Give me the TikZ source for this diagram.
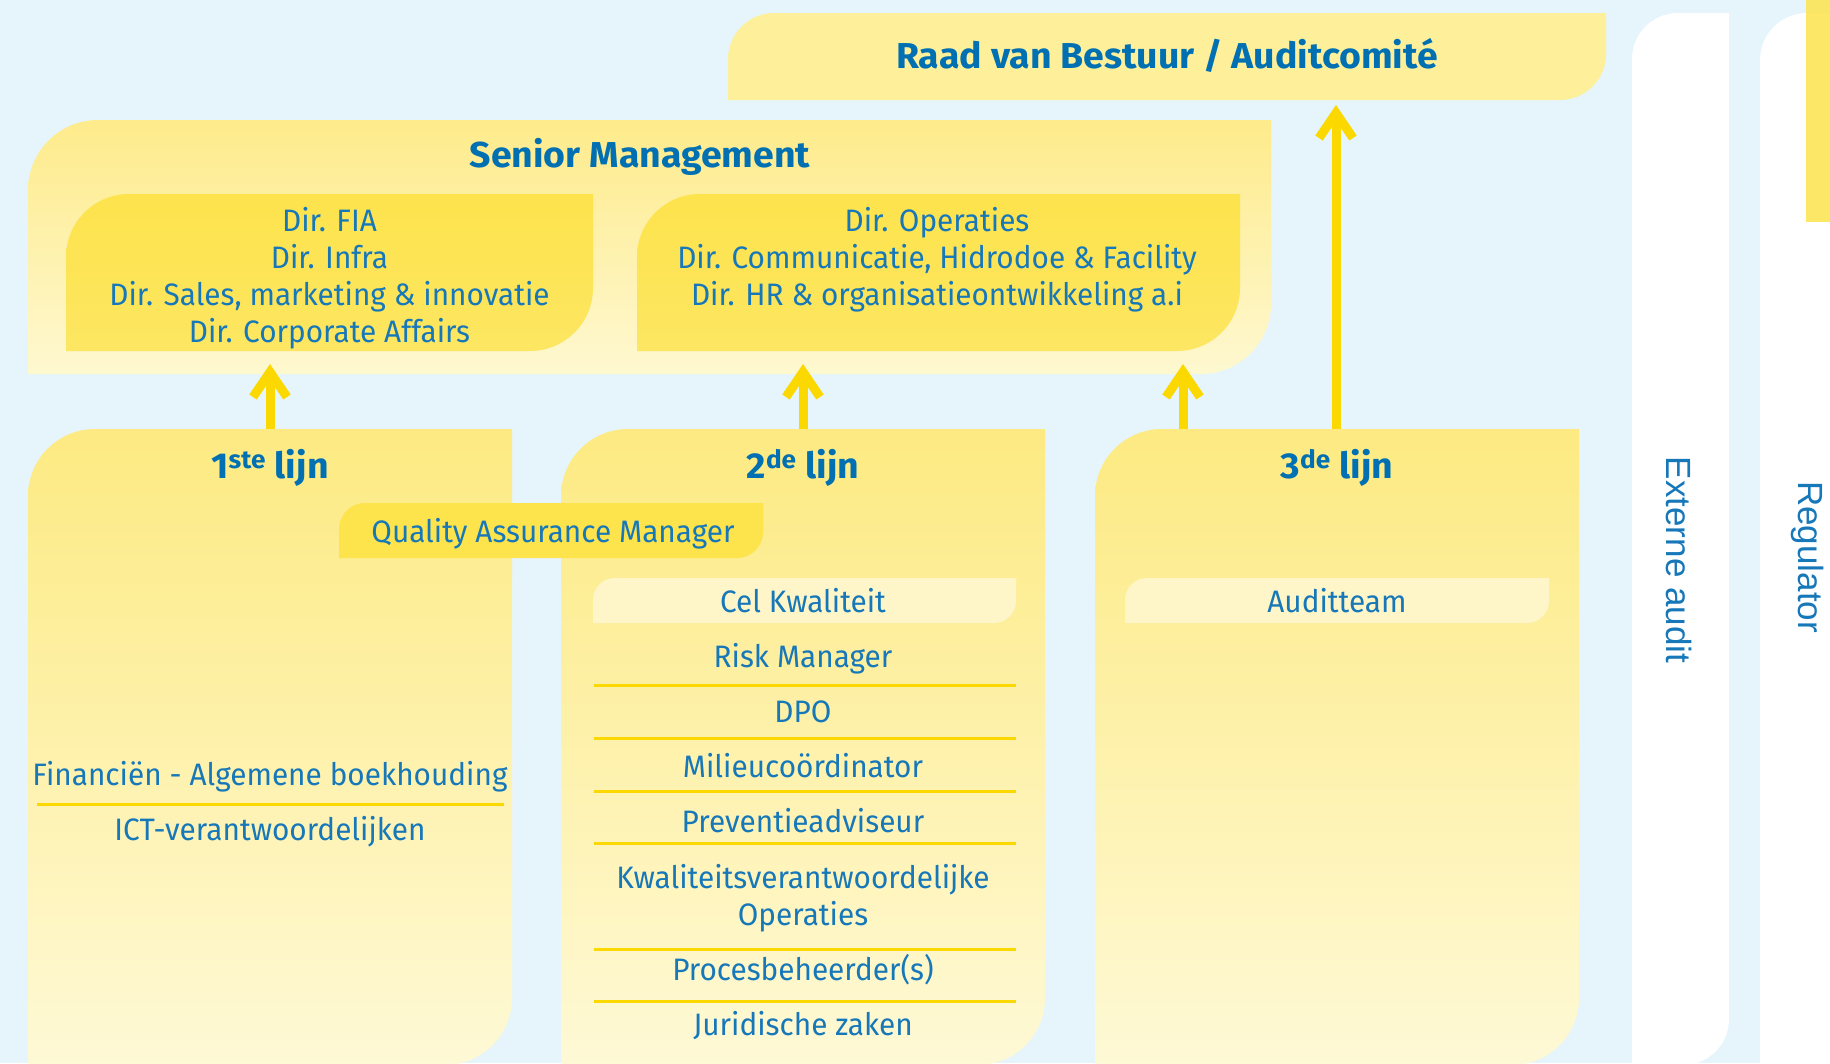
\documentclass[tikz,border=0pt]{standalone}
\usepackage{fontspec}
\setmainfont{Fira Sans}[FakeStretch=0.96]
\newfontfamily\headfont{Fira Sans}[FakeStretch=1.04]
\newfontfamily\sidefont{Liberation Sans}
\usepackage{tikz}
\usepackage{xcolor}
\usetikzlibrary{arrows.meta}

\definecolor{bgblue}{RGB}{230,245,251}
\definecolor{txtblue}{RGB}{22,119,185}
\definecolor{headblue}{RGB}{0,112,178}
\definecolor{gold}{RGB}{250,216,0}
\definecolor{boxtop}{RGB}{253,234,130}
\definecolor{boxbot}{RGB}{254,249,214}
\definecolor{smtop}{RGB}{254,235,139}
\definecolor{smbot}{RGB}{254,248,208}
\definecolor{dirtop}{RGB}{253,227,76}
\definecolor{dirbot}{RGB}{253,230,98}
\definecolor{raadgeel}{RGB}{254,240,155}
\definecolor{palegeel}{RGB}{254,246,200}

% box with rounded top-left and bottom-right corner
\newcommand{\leafpath}[5]{(#1,#4) -- (#1,#2+#5) arc[start angle=180,end angle=270,radius=#5] -- (#3,#2) -- (#3,#4-#5) arc[start angle=0,end angle=90,radius=#5] -- cycle}

\tikzset{
  bodytxt/.style={text=txtblue,font=\fontsize{31}{37.2}\selectfont,align=center,inner sep=0pt},
  headtxt/.style={text=headblue,font=\headfont\fontsize{36}{40}\selectfont\bfseries,inner sep=0pt},
  sidetxt/.style={text=txtblue,font=\sidefont\fontsize{35}{40}\selectfont,rotate=-90,inner sep=0pt},
  arr/.style={gold,line width=9pt,-{Straight Barb[length=25pt,width=34pt]}},
  sep/.style={gold,line width=3pt}
}

\begin{document}
\begin{tikzpicture}[x=1pt,y=-1pt]
\useasboundingbox (0,0) rectangle (1830,1063);
\fill[bgblue] (0,0) rectangle (1830,1063);
\clip (0,0) rectangle (1830,1063);

\fill[white] \leafpath{1632}{13}{1729}{1065}{46};
\fill[white] \leafpath{1760}{13}{1900}{1120}{47};
\fill[dirtop,opacity=0.85] (1806,0) rectangle (1830,222);

\fill[raadgeel] \leafpath{728}{13}{1606}{100}{46};
\shade[top color=smtop,bottom color=smbot] \leafpath{28}{120}{1271}{374}{70};
\shade[top color=dirtop,bottom color=dirbot] \leafpath{66}{194}{593}{351}{63};
\shade[top color=dirtop,bottom color=dirbot] \leafpath{637}{194}{1240}{351}{63};

\shade[top color=boxtop,bottom color=boxbot] \leafpath{28}{429}{512}{1065}{67};
\shade[top color=boxtop,bottom color=boxbot] \leafpath{561}{429}{1045}{1065}{67};
\shade[top color=boxtop,bottom color=boxbot] \leafpath{1095}{429}{1579}{1065}{67};

\fill[dirtop] \leafpath{339}{503}{763}{558}{26};
\fill[palegeel] \leafpath{593}{578}{1016}{623}{22};
\fill[palegeel] \leafpath{1125}{578}{1549}{623}{22};

\draw[sep] (37,804) -- (504,804);
\draw[sep] (594,685) -- (1016,685);
\draw[sep] (594,738) -- (1016,738);
\draw[sep] (594,791) -- (1016,791);
\draw[sep] (594,843) -- (1016,843);
\draw[sep] (594,949) -- (1016,949);
\draw[sep] (594,1001) -- (1016,1001);

\node[headtxt,anchor=base] (raad) at (1167,68) {Raad van Bestuur / Auditcomité};
\node[headtxt,anchor=base] (senior) at (640,167) {Senior Management};
\node[bodytxt,anchor=north] (dirlinks) at (329.5,207) {Dir. FIA\\Dir. Infra\\Dir. Sales, marketing \& innovatie\\Dir. Corporate Affairs};
\node[bodytxt,anchor=north] (dirrechts) at (937,207) {Dir. Operaties\\Dir. Communicatie, Hidrodoe \& Facility\\Dir. HR \& organisatieontwikkeling a.i};

\node[headtxt,anchor=base] (lijn1) at (270,478) {1\textsuperscript{ste} lijn};
\node[headtxt,anchor=base] (lijn2) at (803,478) {2\textsuperscript{de} lijn};
\node[headtxt,anchor=base] (lijn3) at (1337,478) {3\textsuperscript{de} lijn};

\node[bodytxt,anchor=base] (qam) at (553,542) {Quality Assurance Manager};
\node[bodytxt,anchor=base] (fin) at (270,785) {Financiën - Algemene boekhouding};
\node[bodytxt,anchor=base] (ict) at (270,840) {ICT-verantwoordelijken};

\node[bodytxt,anchor=base] (cel) at (803,612) {Cel Kwaliteit};
\node[bodytxt,anchor=base] (risk) at (803,667) {Risk Manager};
\node[bodytxt,anchor=base] (dpo) at (803,722) {DPO};
\node[bodytxt,anchor=base] (milieu) at (803,777) {Milieucoördinator};
\node[bodytxt,anchor=base] (preventie) at (803,832) {Preventieadviseur};
\node[bodytxt,anchor=base] (kwal) at (803,888) {Kwaliteitsverantwoordelijke};
\node[bodytxt,anchor=base] (oper) at (803,925) {Operaties};
\node[bodytxt,anchor=base] (proces) at (803,980) {Procesbeheerder(s)};
\node[bodytxt,anchor=base] (jur) at (803,1035) {Juridische zaken};

\node[bodytxt,anchor=base] (audit) at (1337,612) {Auditteam};

\node[sidetxt] (extern) at (1679,560) {Externe audit};
\node[sidetxt] (regulator) at (1808,557) {Regulator};

\coordinate (l1top) at (270,429);
\coordinate (l2top) at (803,429);
\coordinate (l3top) at (1183,429);
\coordinate (l3raad) at (1336,429);
\coordinate (sm1) at (270,364);
\coordinate (sm2) at (803,364);
\coordinate (sm3) at (1183,364);
\coordinate (raadbot) at (1336,105);
\draw[arr] (l1top) -- (sm1);
\draw[arr] (l2top) -- (sm2);
\draw[arr] (l3top) -- (sm3);
\draw[arr] (l3raad) -- (raadbot);
\end{tikzpicture}
\end{document}
